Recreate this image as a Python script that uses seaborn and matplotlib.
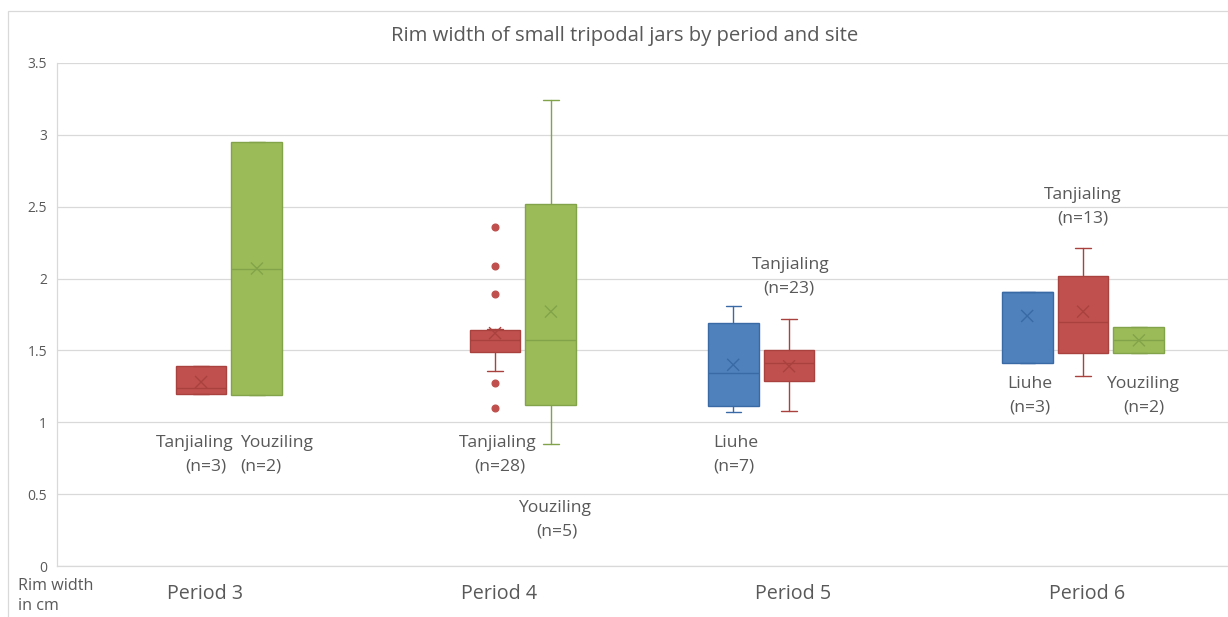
import matplotlib
matplotlib.use("Agg")
import matplotlib.pyplot as plt
from matplotlib.patches import Rectangle
from matplotlib.transforms import ScaledTranslation
import pandas as pd
import seaborn as sns

# ---- data -------------------------------------------------------------
periods = ["Period 3", "Period 4", "Period 5", "Period 6"]
sites = ["Liuhe", "Tanjialing", "Youziling"]

# one entry per box (period / site)
box_period = ["Period 3", "Period 3", "Period 4", "Period 4", "Period 5",
              "Period 5", "Period 6", "Period 6", "Period 6"]
box_site = ["Tanjialing", "Youziling", "Tanjialing", "Youziling", "Liuhe",
            "Tanjialing", "Liuhe", "Tanjialing", "Youziling"]
box_n = [3, 2, 28, 5, 7, 23, 3, 13, 2]
whisker_low = [1.20, 1.19, 1.36, 0.85, 1.07, 1.08, 1.41, 1.32, 1.48]
q1 = [1.20, 1.19, 1.49, 1.12, 1.11, 1.29, 1.41, 1.48, 1.48]
median = [1.24, 2.07, 1.57, 1.57, 1.34, 1.41, 1.91, 1.70, 1.57]
q3 = [1.39, 2.95, 1.64, 2.52, 1.69, 1.50, 1.91, 2.02, 1.66]
whisker_high = [1.39, 2.95, 1.65, 3.24, 1.81, 1.72, 1.91, 2.21, 1.66]
mean = [1.28, 2.07, 1.62, 1.77, 1.40, 1.39, 1.74, 1.77, 1.57]

# outlying rims (Tanjialing, Period 4)
outlier_period = ["Period 4"] * 5
outlier_site = ["Tanjialing"] * 5
outlier_value = [2.36, 2.09, 1.89, 1.27, 1.10]

y_ticks = [0, 0.5, 1, 1.5, 2, 2.5, 3, 3.5]
y_tick_labels = ["0", "0.5", "1", "1.5", "2", "2.5", "3", "3.5"]

title = "Rim width of small tripodal jars by period and site"
y_label = "Rim width\nin cm"

# ---- style ------------------------------------------------------------
sns.set_theme(style="white")
plt.rcParams["font.family"] = ["Open Sans", "DejaVu Sans"]
TEXT = "#595959"
GRID = "#d9d9d9"

fill = {"Liuhe": "#4F81BD", "Tanjialing": "#C0504D", "Youziling": "#9BBB59"}
edge = {"Liuhe": "#3A6AA6", "Tanjialing": "#A9423F", "Youziling": "#83A34A"}
offset = {"Liuhe": -0.19, "Tanjialing": 0.0, "Youziling": 0.19}
BOX_W = 0.173

# label placement: (x of site name, x of count line, y centre of the two lines, ha)
label_place = {
    ("Period 3", "Tanjialing"): (-0.022, 0.016, 0.776, "center"),
    ("Period 3", "Youziling"): (0.133, 0.133, 0.776, "left"),
    ("Period 4", "Tanjialing"): (0.01, 0.015, 0.776, "center"),
    ("Period 4", "Youziling"): (0.204, 0.21, 0.320, "center"),
    ("Period 5", "Liuhe"): (-0.259, -0.259, 0.776, "left"),
    ("Period 5", "Tanjialing"): (0.007, 0.0, 2.011, "center"),
    ("Period 6", "Liuhe"): (-0.18, -0.18, 1.183, "center"),
    ("Period 6", "Tanjialing"): (0.0, 0.0, 2.498, "center"),
    ("Period 6", "Youziling"): (0.201, 0.205, 1.183, "center"),
}

# ---- figure -----------------------------------------------------------
W, H = 1228, 617
fig = plt.figure(figsize=(W / 100, H / 100), dpi=100)
fig.patch.set_facecolor("white")
ax = fig.add_axes([57 / W, 1 - 566 / H, (W - 57) / W, (566 - 63) / H])

# outer chart border
fig.add_artist(Rectangle((8 / W, -0.1), 1.2, 1 - 11 / H + 0.1,
                         transform=fig.transFigure, fill=False,
                         edgecolor=GRID, linewidth=0.9, zorder=0))

pidx = {p: i for i, p in enumerate(periods)}

for i in range(len(box_site)):
    site = box_site[i]
    x = pidx[box_period[i]] + offset[site]
    fl = [v for p, s, v in zip(outlier_period, outlier_site, outlier_value)
          if p == box_period[i] and s == site]
    stats = [dict(whislo=whisker_low[i], q1=q1[i], med=median[i], q3=q3[i],
                  whishi=whisker_high[i], fliers=fl, mean=mean[i])]
    ax.bxp(stats, positions=[x], widths=BOX_W, capwidths=0.052,
           patch_artist=True, showfliers=True, showmeans=False,
           boxprops=dict(facecolor=fill[site], edgecolor=edge[site], linewidth=1.0),
           whiskerprops=dict(color=edge[site], linewidth=1.0),
           capprops=dict(color=edge[site], linewidth=1.0),
           medianprops=dict(color=edge[site], linewidth=1.0),
           flierprops=dict(marker="o", markerfacecolor=fill[site],
                           markeredgecolor=fill[site], markersize=4.8),
           manage_ticks=False, zorder=3)

# mean markers
means_df = pd.DataFrame({
    "x": [pidx[p] + offset[s] for p, s in zip(box_period, box_site)],
    "mean": mean,
    "site": box_site,
})
sns.scatterplot(data=means_df, x="x", y="mean", hue="site", palette=edge,
                marker="x", s=75, linewidth=1.0, legend=False, ax=ax, zorder=5)

# site / sample-size labels
DY = 0.0818
LABEL_FS = 12.6
for p, s, n in zip(box_period, box_site, box_n):
    dx_name, dx_n, yc, ha = label_place[(p, s)]
    ax.text(pidx[p] + dx_name, yc + DY, s, ha=ha, va="center",
            fontsize=LABEL_FS, color=TEXT, zorder=6)
    ax.text(pidx[p] + dx_n, yc - DY, f"(n={n})", ha=ha, va="center",
            fontsize=LABEL_FS, color=TEXT, zorder=6)

# axes
ax.set_xlim(-0.49, 3.493)
ax.set_ylim(0, 3.5)
ax.set_yticks(y_ticks)
ax.set_yticklabels(y_tick_labels)
ax.set_xticks(range(len(periods)))
ax.set_xticklabels(periods)
ax.set_xlabel("")
ax.set_ylabel("")
ax.tick_params(axis="y", length=0, pad=7, labelsize=10, labelcolor=TEXT)
ax.tick_params(axis="x", length=0, pad=13, labelsize=14.2, labelcolor=TEXT)
shift = ScaledTranslation(4 / 100, 0, fig.dpi_scale_trans)
for lab in ax.get_xticklabels():
    lab.set_transform(lab.get_transform() + shift)
ax.grid(axis="y", color=GRID, linewidth=0.9)
ax.grid(axis="x", visible=False)
ax.set_axisbelow(True)
for side in ["top", "right"]:
    ax.spines[side].set_visible(False)
for side in ["left", "bottom"]:
    ax.spines[side].set_color(GRID)
    ax.spines[side].set_linewidth(0.9)

fig.text(625 / W, 1 - 36 / H, title, ha="center", va="center",
         fontsize=14.6, color=TEXT)
fig.text(18 / W, 1 - 596 / H, y_label, ha="left", va="center",
         fontsize=11.6, color=TEXT, linespacing=1.25)

fig.savefig("out.png", dpi=100, facecolor="white")
